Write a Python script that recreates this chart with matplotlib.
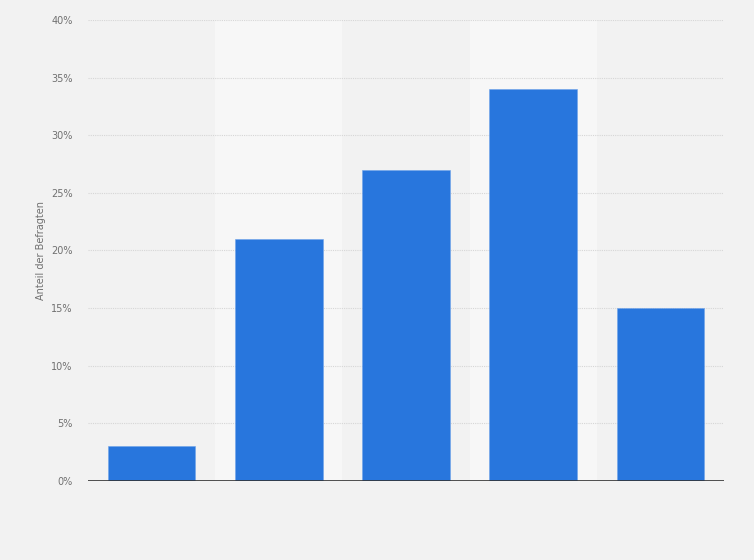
import matplotlib
matplotlib.use("Agg")
import matplotlib.pyplot as plt
from matplotlib.ticker import FuncFormatter

# data
categories = ["1", "2", "3", "4", "5"]
shares = [3, 21, 27, 34, 15]
yticks = [0, 5, 10, 15, 20, 25, 30, 35, 40]

bg = "#f2f2f2"
band = "#f7f7f7"
bar_color = "#2876dd"

fig = plt.figure(figsize=(7.54, 5.60), dpi=100, facecolor=bg)
ax = fig.add_axes([0.1167, 0.1411, 0.8435, 0.8232])
ax.set_facecolor(bg)

x = list(range(len(categories)))

# alternating lighter column bands
for i in x:
    if i % 2 == 1:
        ax.axvspan(i - 0.5, i + 0.5, color=band, zorder=0, lw=0)

ax.bar(x, shares, width=0.69, color=bar_color, zorder=3,
       edgecolor="#6fa3ea", linewidth=0.4)

ax.set_xlim(-0.5, len(categories) - 0.5)
ax.set_ylim(0, 40)
ax.set_yticks(yticks)
ax.yaxis.set_major_formatter(FuncFormatter(lambda v, p: f"{int(v)}%"))
ax.set_xticks([])

ax.grid(axis="y", color="#d6d6d6", linestyle=(0, (1, 1)), linewidth=0.8, zorder=1)
ax.axhline(0, color="#333333", linewidth=1.2, zorder=4)

for s in ax.spines.values():
    s.set_visible(False)
ax.tick_params(axis="y", length=0, pad=11, labelsize=7, labelcolor="#707070")
ax.set_ylabel("Anteil der Befragten", fontsize=7, color="#707070", labelpad=4)

fig.savefig("out.png", dpi=100, facecolor=bg)
